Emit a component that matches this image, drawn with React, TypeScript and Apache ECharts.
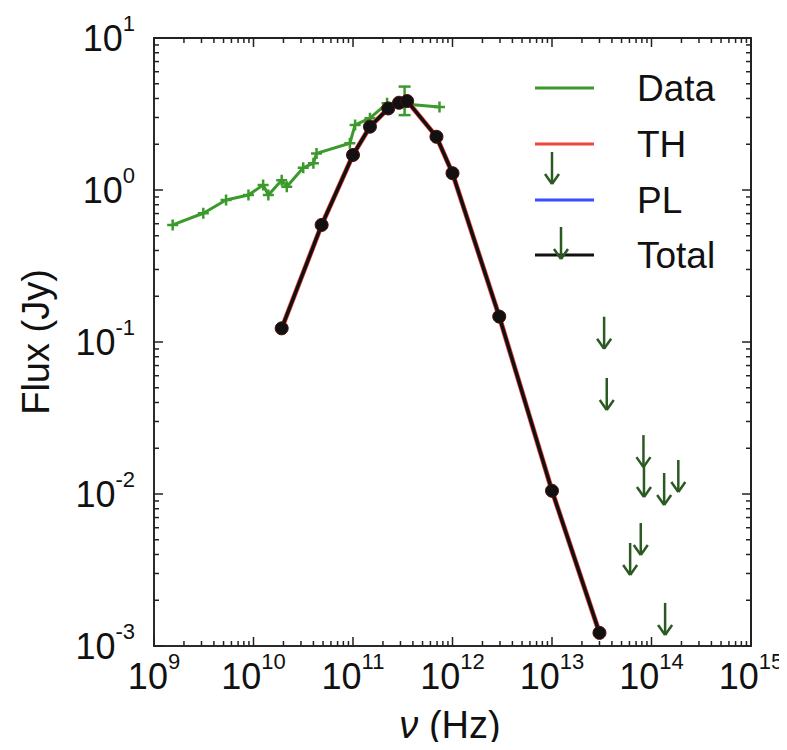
import React, { useEffect, useRef } from "react";
import * as echarts from "echarts";

// ---------------- data ----------------
const dataNu = [1.54e9, 3.13e9, 5.3e9, 8.9e9, 1.25e10, 1.41e10, 1.92e10, 2.16e10, 3.16e10, 4.0e10, 4.3e10, 9.3e10, 1.05e11, 1.48e11, 2.2e11, 3.3e11, 7.4e11];
const dataFlux = [0.589, 0.703, 0.859, 0.927, 1.08, 0.927, 1.16, 1.05, 1.40, 1.50, 1.74, 2.03, 2.68, 2.97, 3.72, 3.68, 3.52];

const errNu = [3.3e11];
const errLow = [3.11];
const errHigh = [4.79];

const totalNu = [1.92e10, 4.84e10, 1.0e11, 1.48e11, 2.26e11, 2.9e11, 3.5e11, 6.9e11, 1.0e12, 2.95e12, 1.0e13, 3.0e13];
const totalFlux = [0.123, 0.589, 1.70, 2.61, 3.44, 3.75, 3.85, 2.24, 1.29, 0.147, 0.0105, 0.00122];

const limitNu = [3.34e13, 3.55e13, 8.3e13, 8.4e13, 1.34e14, 1.86e14, 7.8e13, 6.1e13, 1.37e14];
const limitFlux = [0.1467, 0.058, 0.0244, 0.0155, 0.01375, 0.01675, 0.00644, 0.00476, 0.00192];

const xMajor = [1e9, 1e10, 1e11, 1e12, 1e13, 1e14, 1e15];
const yMajor = [1e-3, 1e-2, 1e-1, 1e0, 1e1];
const xExp = [9, 10, 11, 12, 13, 14, 15];
const yExp = [-3, -2, -1, 0, 1];
const minorMult = [2, 3, 4, 5, 6, 7, 8, 9];

const legendNames = ["Data", "TH", "PL", "Total"];
const xTitle = "ν";
const xUnit = " (Hz)";
const yTitle = "Flux (Jy)";
// ---------------------------------------

const FONT = "'Liberation Sans', Arial, Helvetica, sans-serif";
const GREEN = "#3c9a2c";
const ARROW = "#2a5a22";
const RED = "#f0453c";
const BLUE = "#3a4cff";
const BLACK = "#111111";
const AXIS = "#2a2a2a";
const FRAME = "#222222";

function minors(majors: number[]) {
  const out: number[] = [];
  for (let i = 0; i < majors.length - 1; i++) for (const m of minorMult) out.push(majors[i] * m);
  return out;
}

const labelRich = () => ({
  b: { fontSize: 36, lineHeight: 52, fontFamily: FONT, fill: "#111" },
  s: { fontSize: 22, lineHeight: 22, fontFamily: FONT, fill: "#111", verticalAlign: "top" },
});

const mkX = (pos: string) => ({
  type: "log",
  min: 1e9,
  max: 1.0000001e15,
  position: pos,
  splitLine: { show: false },
  axisLine: { show: true, onZero: false, lineStyle: { color: AXIS, width: 2 } },
  axisTick: { show: false },
  axisLabel: { show: false },
});
const mkY = (pos: string) => ({
  type: "log",
  min: 1e-3,
  max: 1e1,
  position: pos,
  splitLine: { show: false },
  axisLine: { show: true, onZero: false, lineStyle: { color: AXIS, width: 2 } },
  axisTick: { show: false },
  axisLabel: { show: false },
});

const arrowEls = (x: number, y1: number, y2: number) => [
  { type: "line", shape: { x1: x, y1, x2: x, y2 }, style: { stroke: ARROW, lineWidth: 2.5 } },
  { type: "line", shape: { x1: x - 7, y1: y2 - 10, x2: x, y2 }, style: { stroke: ARROW, lineWidth: 2.5 } },
  { type: "line", shape: { x1: x + 7, y1: y2 - 10, x2: x, y2 }, style: { stroke: ARROW, lineWidth: 2.5 } },
];

export default function App() {
  const ref = useRef<HTMLDivElement>(null);
  useEffect(() => {
    if (!ref.current) return;
    const chart = echarts.init(ref.current, null, { renderer: "svg" });

    const dataPts = dataNu.map((x, i) => [x, dataFlux[i]]);
    const totalPts = totalNu.map((x, i) => [x, totalFlux[i]]);
    const thPts = totalNu.map((x, i) => [x, totalFlux[i]]);
    const limitPts = limitNu.map((x, i) => [x, limitFlux[i]]);
    const errPts = errNu.map((x, i) => [x, errLow[i], errHigh[i]]);

    // label items: [x, y, kind, exponent]  kind 0 = x label, 2 = y label
    const labelPts: number[][] = [];
    xMajor.forEach((v, i) => labelPts.push([v, 1, 0, xExp[i]]));
    yMajor.forEach((v, i) => labelPts.push([1e12, v, 2, yExp[i]]));

    const xMinor = minors(xMajor);
    const yMinor = minors(yMajor);

    const legendY = [88, 144, 200, 255];
    const legendColors = [GREEN, RED, BLUE, BLACK];

    const option: any = {
      animation: false,
      grid: { left: 154, top: 38, right: 36, bottom: 104 },
      xAxis: [mkX("bottom"), mkX("top")],
      yAxis: [mkY("left"), mkY("right")],
      series: [
        {
          name: "Data",
          type: "line",
          data: dataPts,
          lineStyle: { color: GREEN, width: 3 },
          symbol: "path://M5,0L5,10M0,5L10,5",
          symbolSize: 11,
          showSymbol: true,
          itemStyle: { color: "none", borderColor: GREEN, borderWidth: 2.5 },
          z: 3,
        },
        {
          name: "DataErr",
          type: "custom",
          data: errPts,
          z: 3,
          renderItem: (params: any, api: any) => {
            const lo = api.coord([api.value(0), api.value(1)]);
            const hi = api.coord([api.value(0), api.value(2)]);
            return {
              type: "group",
              children: [
                { type: "line", shape: { x1: lo[0], y1: lo[1], x2: hi[0], y2: hi[1] }, style: { stroke: GREEN, lineWidth: 2.5 } },
                { type: "line", shape: { x1: hi[0] - 6, y1: hi[1], x2: hi[0] + 6, y2: hi[1] }, style: { stroke: GREEN, lineWidth: 2.5 } },
                { type: "line", shape: { x1: lo[0] - 6, y1: lo[1], x2: lo[0] + 6, y2: lo[1] }, style: { stroke: GREEN, lineWidth: 2.5 } },
              ],
            };
          },
        },
        {
          name: "TH",
          type: "line",
          data: thPts,
          lineStyle: { color: RED, width: 5 },
          showSymbol: false,
          symbol: "none",
          z: 4,
        },
        {
          name: "Total",
          type: "line",
          data: totalPts,
          lineStyle: { color: BLACK, width: 3.5 },
          symbol: "circle",
          symbolSize: 13,
          showSymbol: true,
          itemStyle: { color: BLACK, borderColor: "#4a0d0d", borderWidth: 1 },
          z: 5,
        },
        {
          name: "Limits",
          type: "custom",
          data: limitPts,
          clip: false,
          z: 6,
          renderItem: (params: any, api: any) => {
            const p = api.coord([api.value(0), api.value(1)]);
            return { type: "group", children: arrowEls(p[0], p[1], p[1] + 32) };
          },
        },
        {
          name: "Decor",
          type: "custom",
          data: [[1e12, 1]],
          clip: false,
          silent: true,
          z: 8,
          renderItem: () => {
            const ch: any[] = [
              {
                type: "text",
                x: 36,
                y: 342,
                rotation: Math.PI / 2,
                style: { text: yTitle, fontSize: 38, fontFamily: FONT, fill: "#111", align: "center", verticalAlign: "middle" },
              },
              {
                type: "text",
                x: 450,
                y: 725,
                style: {
                  text: `{i|${xTitle}}{n|${xUnit}}`,
                  rich: {
                    i: { fontStyle: "italic", fontSize: 38, fontFamily: FONT, fill: "#111" },
                    n: { fontSize: 38, fontFamily: FONT, fill: "#111" },
                  },
                  align: "center",
                  verticalAlign: "middle",
                },
              },
            ];
            legendNames.forEach((name, i) => {
              ch.push({
                type: "line",
                shape: { x1: 535, y1: legendY[i], x2: 594, y2: legendY[i] },
                style: { stroke: legendColors[i], lineWidth: 3 },
              });
              ch.push({
                type: "text",
                x: 637,
                y: legendY[i],
                style: { text: name, fontSize: 37, fontFamily: FONT, fill: "#111", align: "left", verticalAlign: "middle" },
              });
            });
            ch.push(...arrowEls(552, 152, 184));
            ch.push(...arrowEls(561, 227, 259));
            return { type: "group", children: ch };
          },
        },
        {
          name: "Frame",
          type: "custom",
          data: [[1e12, 1]],
          clip: false,
          silent: true,
          z: 9,
          renderItem: (params: any, api: any) => {
            const cs = params.coordSys;
            const xl = cs.x;
            const xr = cs.x + cs.width;
            const yt = cs.y;
            const yb = cs.y + cs.height;
            const ch: any[] = [
              { type: "line", shape: { x1: xr, y1: yt, x2: xr, y2: yb }, style: { stroke: FRAME, lineWidth: 2 } },
              { type: "line", shape: { x1: xl, y1: yt, x2: xr, y2: yt }, style: { stroke: FRAME, lineWidth: 2 } },
            ];
            const addX = (v: number, len: number) => {
              const p = api.coord([v, 1]);
              ch.push({ type: "line", shape: { x1: p[0], y1: yb, x2: p[0], y2: yb - len }, style: { stroke: FRAME, lineWidth: 1.5 } });
              ch.push({ type: "line", shape: { x1: p[0], y1: yt, x2: p[0], y2: yt + len }, style: { stroke: FRAME, lineWidth: 1.5 } });
            };
            const addY = (v: number, len: number) => {
              const p = api.coord([1e12, v]);
              ch.push({ type: "line", shape: { x1: xl, y1: p[1], x2: xl + len, y2: p[1] }, style: { stroke: FRAME, lineWidth: 1.5 } });
              ch.push({ type: "line", shape: { x1: xr, y1: p[1], x2: xr - len, y2: p[1] }, style: { stroke: FRAME, lineWidth: 1.5 } });
            };
            xMajor.forEach((v) => addX(v, 9));
            xMinor.forEach((v) => addX(v, 5));
            yMajor.forEach((v) => addY(v, 9));
            yMinor.forEach((v) => addY(v, 5));
            return { type: "group", children: ch };
          },
        },
        {
          name: "Labels",
          type: "custom",
          data: labelPts,
          clip: false,
          silent: true,
          z: 10,
          renderItem: (params: any, api: any) => {
            const kind = api.value(2);
            const ex = api.value(3);
            const p = api.coord([api.value(0), api.value(1)]);
            const cs = params.coordSys;
            if (kind === 0) {
              return {
                type: "text",
                x: p[0],
                y: cs.y + cs.height + 4,
                style: { text: `{b|10}{s|${ex}}`, rich: labelRich(), align: "center", verticalAlign: "top" },
              };
            }
            return {
              type: "text",
              x: cs.x - 19,
              y: p[1],
              style: { text: `{b|10}{s|${ex}}`, rich: labelRich(), align: "right", verticalAlign: "middle" },
            };
          },
        },
      ],
    };
    chart.setOption(option);
    return () => chart.dispose();
  }, []);
  return (
    <div style={{ margin: -8 }}>
      <div ref={ref} style={{ width: 787, height: 750 }} />
    </div>
  );
}
